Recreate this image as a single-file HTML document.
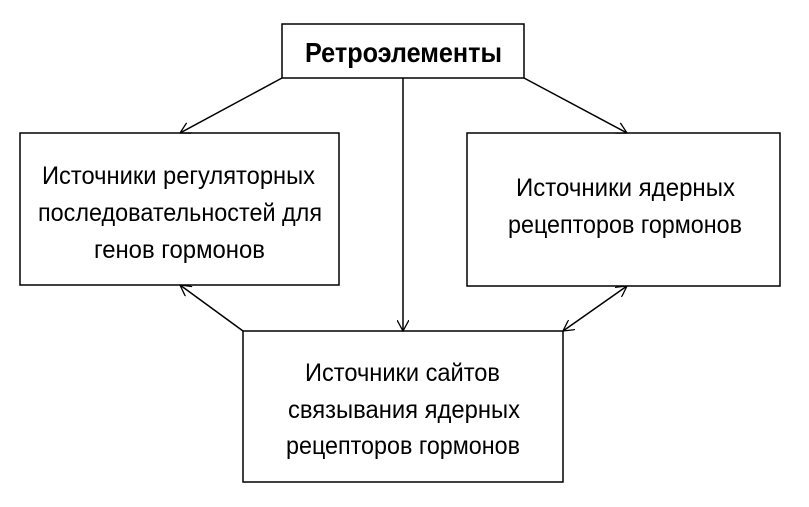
<!DOCTYPE html>
<html><head><meta charset="utf-8"><style>html,body{margin:0;padding:0;background:#fff}svg{display:block}</style></head>
<body>
<svg width="809" height="507" viewBox="0 0 809 507" xmlns="http://www.w3.org/2000/svg" font-family="'Liberation Sans', sans-serif" fill="#000">
<defs>
<marker id="a" viewBox="0 0 12 12" refX="11" refY="6" markerWidth="12" markerHeight="12" markerUnits="userSpaceOnUse" orient="auto-start-reverse">
<path d="M0,0 L11,6 L0,12" fill="none" stroke="#000" stroke-width="1.3"/>
</marker>
</defs>
<g fill="none" stroke="#000" stroke-width="1.5">
<rect x="282" y="24" width="242" height="54"/>
<rect x="20" y="133" width="319" height="152"/>
<rect x="467" y="133" width="313" height="153"/>
<rect x="243" y="331" width="320" height="151"/>
<line x1="282" y1="78" x2="180" y2="133" marker-end="url(#a)"/>
<line x1="524" y1="78" x2="627" y2="133" marker-end="url(#a)"/>
<line x1="403" y1="78" x2="403" y2="331" marker-end="url(#a)"/>
<line x1="243" y1="331" x2="180" y2="285" marker-end="url(#a)"/>
<line x1="563" y1="331" x2="627" y2="286" marker-start="url(#a)" marker-end="url(#a)"/>
</g>
<text x="305" y="62" font-size="28" font-weight="bold" textLength="197" lengthAdjust="spacingAndGlyphs">Ретроэлементы</text>
<g font-size="25">
<text x="42" y="184" textLength="273" lengthAdjust="spacingAndGlyphs">Источники регуляторных</text>
<text x="38" y="221" textLength="284" lengthAdjust="spacingAndGlyphs">последовательностей для</text>
<text x="94" y="258" textLength="171" lengthAdjust="spacingAndGlyphs">генов гормонов</text>
<text x="516" y="196" textLength="219" lengthAdjust="spacingAndGlyphs">Источники ядерных</text>
<text x="508" y="233" textLength="234" lengthAdjust="spacingAndGlyphs">рецепторов гормонов</text>
<text x="305" y="381" textLength="195" lengthAdjust="spacingAndGlyphs">Источники сайтов</text>
<text x="288" y="418" textLength="232" lengthAdjust="spacingAndGlyphs">связывания ядерных</text>
<text x="286" y="454" textLength="234" lengthAdjust="spacingAndGlyphs">рецепторов гормонов</text>
</g>
</svg>
</body></html>
